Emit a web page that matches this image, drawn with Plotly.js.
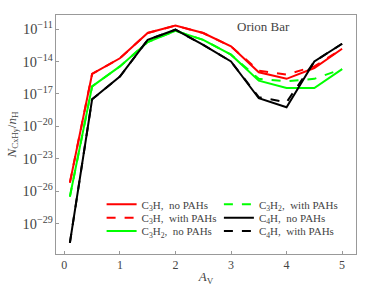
<!DOCTYPE html>
<html>
<head>
<meta charset="utf-8">
<script src="https://cdn.plot.ly/plotly-3.0.1.min.js"></script>
<style>html,body{margin:0;padding:0;background:#fff;}#chart{width:374px;height:299px;}</style>
</head>
<body>
<div id="chart"></div>
<script>
const av = [0.1, 0.5, 1.0, 1.5, 2.0, 2.5, 3.0, 3.5, 4.0, 4.5, 5.0];
const c3h_noPAH   = [6.3e-26, 7e-16, 2e-14, 4.3e-12, 2.1e-11, 4.3e-12, 2.5e-13, 1e-15, 2.5e-16, 2.5e-15, 1.5e-13];
const c3h_PAH     = [6.3e-26, 7e-16, 2e-14, 4.3e-12, 2.1e-11, 4.3e-12, 2.5e-13, 1.4e-15, 6.3e-16, 3.5e-15, 1.5e-13];
const c3h2_noPAH  = [3.2e-27, 5e-17, 3.5e-15, 6.3e-13, 6.9e-12, 1e-12, 4.3e-14, 1.7e-16, 3.5e-17, 3.5e-17, 2e-15];
const c3h2_PAH    = [3.2e-27, 5e-17, 3.5e-15, 6.3e-13, 6.9e-12, 1e-12, 4.3e-14, 2.5e-16, 1.45e-16, 2.5e-16, 2e-15];
const c4h_noPAH   = [1.7e-31, 3.2e-18, 4e-16, 1e-12, 8.7e-12, 3.5e-13, 1e-14, 4e-18, 5.8e-19, 1e-14, 4.4e-13];
const c4h_PAH     = [1.7e-31, 3.2e-18, 4e-16, 1e-12, 8.7e-12, 3.5e-13, 1e-14, 5e-18, 1.7e-18, 1e-14, 4.4e-13];

const names = ['C<sub>3</sub>H,  no PAHs', 'C<sub>3</sub>H,  with PAHs', 'C<sub>3</sub>H<sub>2</sub>,  no PAHs',
               'C<sub>3</sub>H<sub>2</sub>,  with PAHs', 'C<sub>4</sub>H,  no PAHs', 'C<sub>4</sub>H,  with PAHs'];
const series = [c3h_noPAH, c3h_PAH, c3h2_noPAH, c3h2_PAH, c4h_noPAH, c4h_PAH];
const colors = ['#ff0000', '#ff0000', '#00ff00', '#00ff00', '#000000', '#000000'];
const dashes = ['solid', 'dash', 'solid', 'dash', 'solid', 'dash'];
const legendIds = ['legend', 'legend2', 'legend3', 'legend4', 'legend5', 'legend6'];

const font = 'Liberation Serif, DejaVu Serif, serif';
const traces = series.map((y, i) => ({
  x: av, y: y, type: 'scatter', mode: 'lines', name: names[i],
  line: {color: colors[i], width: 2, dash: dashes[i]},
  legend: legendIds[i]
}));

// legend grid: two columns, three rows
const colX = [0.152, 0.543];
const rowY = [0.208, 0.152, 0.096];

const layout = {
  width: 374, height: 299,
  margin: {l: 56, r: 18, t: 15, b: 45},
  paper_bgcolor: '#fff', plot_bgcolor: '#fff',
  font: {family: font, size: 12, color: '#444'},
  showlegend: true,
  xaxis: {
    range: [-0.15, 5.25], tickvals: [0, 1, 2, 3, 4, 5],
    ticks: 'inside', ticklen: 3, tickcolor: '#999',
    tickfont: {family: font, size: 12, color: '#444'},
    showline: true, linecolor: '#999', linewidth: 1, mirror: true,
    showgrid: false, zeroline: false,
    title: {text: '<i>A</i><sub>V</sub>', font: {family: font, size: 13, color: '#444'}, standoff: 0}
  },
  yaxis: {
    type: 'log', range: [-31.8, -9.7], dtick: 3, tick0: -29,
    exponentformat: 'power',
    ticks: 'inside', ticklen: 3, tickcolor: '#999',
    tickfont: {family: font, size: 11.5, color: '#444'},
    showline: true, linecolor: '#999', linewidth: 1, mirror: true,
    showgrid: false, zeroline: false,
    title: {text: '<i>N</i><sub>C<span style="font-size:8px">x</span>H<span style="font-size:8px">y</span></sub>/<i>n</i><sub>H</sub>',
            font: {family: font, size: 13, color: '#444'}, standoff: 3}
  },
  annotations: [{text: 'Orion Bar', xref: 'paper', yref: 'paper', x: 0.69, y: 0.95,
    xanchor: 'center', yanchor: 'middle',
    showarrow: false, font: {family: font, size: 13, color: '#444'}}]
};
legendIds.forEach((id, i) => {
  layout[id] = {
    x: colX[Math.floor(i / 3)], y: rowY[i % 3], xanchor: 'left', yanchor: 'middle',
    font: {family: font, size: 11, color: '#444'}, bgcolor: 'rgba(0,0,0,0)',
    itemwidth: 30, tracegroupgap: 0
  };
});

Plotly.newPlot('chart', traces, layout, {displayModeBar: false, staticPlot: true});
</script>
</body>
</html>
